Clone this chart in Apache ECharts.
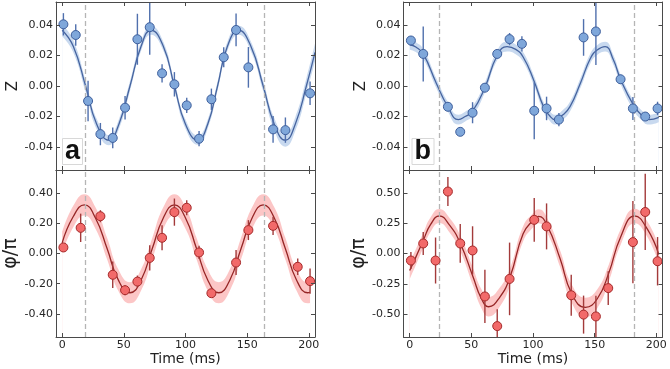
<!DOCTYPE html>
<html>
<head>
<meta charset="utf-8">
<script src="https://cdn.jsdelivr.net/npm/echarts@6/dist/echarts.min.js"></script>
<style>
  html, body { margin: 0; padding: 0; background: #fff; }
  #chart { width: 670px; height: 369px; }
</style>
</head>
<body>
<div id="chart"></div>
<script>
// tick values
const timeTicks = [0, 50, 100, 150, 200];
const zTicks = [-0.04, -0.02, 0, 0.02, 0.04];
const aPhiTicks = [-0.4, -0.2, 0, 0.2, 0.4];
const bPhiTicks = [-0.5, -0.25, 0, 0.25, 0.5];

// dashed guide lines (ms)
const aDash = [18.4, 163.6];
const bDash = [23.9, 182.4];

// panel a, Z: measured points
const aZTime = [1, 11, 21, 31, 41, 51, 61, 71, 81, 91, 101, 111, 121, 131, 141, 151, 171, 181, 201];
const aZ = [0.0404, 0.0334, -0.0098, -0.0315, -0.034, -0.0142, 0.0306, 0.0385, 0.0083, 0.0011, -0.0127, -0.0345, -0.0087, 0.0188, 0.0367, 0.0122, -0.0284, -0.0289, -0.0048];
const aZErr = [0.0073, 0.007, 0.0133, 0.0073, 0.0068, 0.0077, 0.0167, 0.018, 0.006, 0.008, 0.005, 0.005, 0.007, 0.0066, 0.0107, 0.0133, 0.0087, 0.0083, 0.0077];
// panel a, Z: fit curve + band half-width
const aZFitT = [0, 9, 19, 28, 38, 46, 55, 64, 72, 82, 91, 100, 110, 118, 126, 134, 143, 153, 163, 172, 181, 189, 198, 205];
const aZFit = [0.0365, 0.026, 0, -0.025, -0.0355, -0.025, 0, 0.026, 0.0365, 0.026, 0, -0.025, -0.0355, -0.025, 0, 0.026, 0.0365, 0.026, 0, -0.025, -0.0355, -0.025, 0, 0.022];
const aZBand = [0.004, 0.004, 0.0038, 0.0035, 0.0033, 0.0032, 0.0032, 0.003, 0.003, 0.003, 0.003, 0.003, 0.003, 0.003, 0.003, 0.003, 0.003, 0.0032, 0.0035, 0.004, 0.0042, 0.0045, 0.005, 0.0058];

// panel a, phase
const aPhiTime = [1, 15, 31, 41, 51, 61, 71, 81, 91, 101, 111, 121, 141, 151, 171, 191, 201];
const aPhi = [0.04, 0.17, 0.247, -0.141, -0.243, -0.186, -0.029, 0.104, 0.274, 0.303, 0.007, -0.263, -0.06, 0.155, 0.183, -0.088, -0.183];
const aPhiErr = [0.02, 0.094, 0.04, 0.088, 0.033, 0.04, 0.083, 0.083, 0.09, 0.05, 0.044, 0.02, 0.083, 0.066, 0.06, 0.055, 0.083];
const aPhiFitT = [0, 9, 18, 27, 36.5, 45.5, 55, 64, 73, 82, 91, 100, 109, 118, 127, 136, 145, 154, 163, 172, 181, 190, 199, 201];
const aPhiFit = [0.07, 0.245, 0.322, 0.235, 0.031, -0.175, -0.26, -0.175, 0.031, 0.235, 0.322, 0.235, 0.031, -0.175, -0.26, -0.175, 0.031, 0.235, 0.322, 0.235, 0.031, -0.175, -0.26, -0.258];
const aPhiBand = [0.071, 0.071, 0.071, 0.071, 0.071, 0.071, 0.07, 0.07, 0.07, 0.071, 0.071, 0.071, 0.071, 0.07, 0.07, 0.07, 0.071, 0.071, 0.071, 0.071, 0.071, 0.07, 0.07, 0.07];

// panel b, Z
const bZTime = [1, 11, 31, 41, 51, 61, 71, 81, 91, 101, 111, 121, 141, 151, 171, 181, 191, 201];
const bZ = [0.0298, 0.021, -0.0136, -0.03, -0.0175, -0.0011, 0.021, 0.0307, 0.0276, -0.0162, -0.0147, -0.022, 0.0318, 0.0357, 0.0044, -0.0147, -0.02, -0.0147];
const bZErr = [0.003, 0.018, 0.003, 0.002, 0.0069, 0.003, 0.003, 0.004, 0.005, 0.0186, 0.0077, 0.0044, 0.012, 0.022, 0.003, 0.0075, 0.002, 0.0044];
const bZFitT = [0, 5, 11, 21.5, 31, 39.5, 45, 51, 61, 71, 79, 86, 92, 100.5, 108.5, 113, 118, 124, 130, 138.5, 146.5, 152, 158.5, 165, 171, 181.5, 188, 194, 202];
const bZFit = [0.027, 0.0255, 0.021, 0.002, -0.0136, -0.022, -0.02, -0.0165, -0.001, 0.02, 0.0258, 0.024, 0.019, 0.004, -0.0135, -0.019, -0.022, -0.019, -0.0135, 0.002, 0.018, 0.0235, 0.0258, 0.0175, 0.0044, -0.0125, -0.019, -0.022, -0.0205];
const bZBand = [0.0032, 0.0032, 0.0032, 0.0032, 0.0032, 0.0032, 0.0032, 0.0032, 0.0032, 0.0032, 0.0032, 0.0032, 0.0032, 0.0032, 0.0032, 0.0032, 0.0032, 0.0032, 0.0032, 0.0032, 0.0032, 0.0032, 0.0032, 0.0032, 0.0032, 0.0032, 0.0032, 0.0032, 0.0032];

// panel b, phase
const bPhiTime = [1, 11, 21, 31, 41, 51, 61, 71, 81, 101, 111, 131, 141, 151, 161, 181, 191, 201];
const bPhi = [-0.058, 0.083, -0.058, 0.512, 0.083, 0.025, -0.355, -0.6, -0.21, 0.278, 0.224, -0.345, -0.505, -0.52, -0.286, 0.094, 0.343, -0.064];
const bPhiErr = [0.07, 0.095, 0.19, 0.12, 0.16, 0.2, 0.22, 0.14, 0.3, 0.18, 0.19, 0.17, 0.157, 0.17, 0.14, 0.34, 0.315, 0.2];
const bPhiFitT = [0, 5, 11, 17, 24, 32.5, 41, 51.5, 58, 64, 73, 81.5, 92, 100.5, 104.5, 111.5, 122, 131.5, 142.5, 152, 161.5, 171, 182.5, 192.5, 202];
const bPhiFit = [-0.141, -0.03, 0.108, 0.24, 0.31, 0.232, 0.085, -0.196, -0.37, -0.44, -0.362, -0.19, 0.163, 0.279, 0.307, 0.232, -0.044, -0.334, -0.445, -0.376, -0.16, 0.135, 0.31, 0.205, -0.008];
const bPhiBand = [0.072, 0.066, 0.062, 0.06, 0.058, 0.06, 0.064, 0.072, 0.078, 0.08, 0.078, 0.07, 0.062, 0.058, 0.058, 0.06, 0.068, 0.076, 0.08, 0.078, 0.07, 0.064, 0.06, 0.064, 0.072];

const blue = { line: '#46649f', band: '#c8d9ef', fill: '#7fa7da', edge: '#3e5f9c', err: '#5070ad' };
const red = { line: '#962626', band: '#fcc6c6', fill: '#f26a6a', edge: '#a52a2a', err: '#a33a3a' };

const frame = { color: '#4a4a4a', width: 1 };
const tickFont = { fontFamily: 'DejaVu Sans', fontSize: 11, color: '#262626' };

const panels = [
  { left: 56, top: 2, height: 168, min: -0.055, max: 0.055, ticks: zTicks, name: 'Z', nameSize: 15, nameGap: 35, showX: false,
    t: aZTime, v: aZ, e: aZErr, fitT: aZFitT, fit: aZFit, band: aZBand, dash: aDash, col: blue },
  { left: 56, top: 170, height: 167, min: -0.553, max: 0.553, ticks: aPhiTicks, name: 'φ/π', nameSize: 19, nameGap: 29, showX: true,
    t: aPhiTime, v: aPhi, e: aPhiErr, fitT: aPhiFitT, fit: aPhiFit, band: aPhiBand, dash: aDash, col: red },
  { left: 403.5, top: 2, height: 168, min: -0.055, max: 0.055, ticks: zTicks, name: 'Z', nameSize: 15, nameGap: 35, showX: false,
    t: bZTime, v: bZ, e: bZErr, fitT: bZFitT, fit: bZFit, band: bZBand, dash: bDash, col: blue },
  { left: 403.5, top: 170, height: 167, min: -0.69, max: 0.69, ticks: bPhiTicks, name: 'φ/π', nameSize: 19, nameGap: 29, showX: true,
    t: bPhiTime, v: bPhi, e: bPhiErr, fitT: bPhiFitT, fit: bPhiFit, band: bPhiBand, dash: bDash, col: red }
];

function pairs(t, v) { return t.map((x, i) => [x, v[i]]); }
function edge(t, v, w, s) { return t.map((x, i) => [x, v[i] + s * w[i]]); }
function triples(t, v, e) { return t.map((x, i) => [x, v[i], e[i]]); }

function errBars(color) {
  return function (params, api) {
    const x = api.value(0), y = api.value(1), e = api.value(2);
    const p1 = api.coord([x, y - e]);
    const p2 = api.coord([x, y + e]);
    return {
      type: 'line',
      shape: { x1: p1[0], y1: p1[1], x2: p2[0], y2: p2[1] },
      style: { stroke: color, lineWidth: 1.4 }
    };
  };
}

const grid = [], xAxis = [], yAxis = [], series = [];

panels.forEach((p, i) => {
  grid.push({ left: p.left, top: p.top, width: 259, height: p.height });

  ['bottom', 'top'].forEach(pos => {
    const main = pos === 'bottom';
    xAxis.push({
      type: 'value', gridIndex: i, position: pos, min: -5, max: 205, z: 10,
      axisLine: { onZero: false, lineStyle: frame },
      axisTick: { inside: true, length: 4, customValues: timeTicks, lineStyle: frame },
      axisLabel: Object.assign({ show: main && p.showX, customValues: timeTicks, margin: 3 }, tickFont),
      splitLine: { show: false },
      name: main && p.showX ? 'Time (ms)' : '',
      nameLocation: 'middle', nameGap: 14,
      nameTextStyle: { fontFamily: 'DejaVu Sans', fontSize: 14, color: '#222' }
    });
  });

  ['left', 'right'].forEach(pos => {
    const main = pos === 'left';
    yAxis.push({
      type: 'value', gridIndex: i, position: pos, min: p.min, max: p.max, z: 10,
      axisLine: { onZero: false, lineStyle: frame },
      axisTick: { inside: true, length: 4, customValues: p.ticks, lineStyle: frame },
      axisLabel: Object.assign({ show: main, customValues: p.ticks, margin: 3, formatter: v => v.toFixed(2) }, tickFont),
      splitLine: { show: false },
      name: main ? p.name : '',
      nameLocation: 'middle', nameRotate: 90, nameGap: p.nameGap,
      nameTextStyle: { fontFamily: 'DejaVu Sans', fontSize: p.nameSize, color: '#222' }
    });
  });

  const ax = { xAxisIndex: 2 * i, yAxisIndex: 2 * i };

  // confidence band: fill under upper edge, then white under lower edge
  series.push(Object.assign({
    type: 'line', smooth: true, symbol: 'none', silent: true, z: 1,
    data: edge(p.fitT, p.fit, p.band, 1),
    lineStyle: { opacity: 0 },
    areaStyle: { color: p.col.band, opacity: 1, origin: 'start' }
  }, ax));
  series.push(Object.assign({
    type: 'line', smooth: true, symbol: 'none', silent: true, z: 1.5,
    data: edge(p.fitT, p.fit, p.band, -1),
    lineStyle: { opacity: 0 },
    areaStyle: { color: '#ffffff', opacity: 1, origin: 'start' }
  }, ax));

  // fitted curve + dashed markers
  series.push(Object.assign({
    type: 'line', smooth: true, symbol: 'none', silent: true, z: 3,
    data: pairs(p.fitT, p.fit),
    lineStyle: { color: p.col.line, width: 1.3 },
    markLine: {
      silent: true, symbol: ['none', 'none'], label: { show: false },
      lineStyle: { color: '#b5b5b5', type: [5, 3], width: 1.3 },
      data: p.dash.map(d => ({ xAxis: d }))
    }
  }, ax));

  // error bars
  series.push(Object.assign({
    type: 'custom', clip: true, silent: true, z: 4,
    data: triples(p.t, p.v, p.e),
    encode: { x: 0, y: 1 },
    renderItem: errBars(p.col.err)
  }, ax));

  // points
  series.push(Object.assign({
    type: 'scatter', symbolSize: 9, silent: true, z: 5,
    data: pairs(p.t, p.v),
    itemStyle: { color: p.col.fill, borderColor: p.col.edge, borderWidth: 1, opacity: 1 }
  }, ax));
});

const panelLabel = {
  fontFamily: 'Liberation Sans', fontWeight: 'bold', fontSize: 27, lineHeight: 23, color: '#111'
};

const chart = echarts.init(document.getElementById('chart'));
chart.setOption({
  animation: false,
  backgroundColor: '#fff',
  title: [
    { text: 'a', left: 62, top: 140, z: 12, padding: [0, 3, 0, 3], backgroundColor: '#fff', borderColor: '#d8d8d8', borderWidth: 1, textStyle: panelLabel },
    { text: 'b', left: 411.5, top: 140, z: 12, padding: [0, 3, 0, 3], backgroundColor: '#fff', borderColor: '#d8d8d8', borderWidth: 1, textStyle: panelLabel }
  ],
  grid: grid,
  xAxis: xAxis,
  yAxis: yAxis,
  series: series
});
</script>
</body>
</html>
